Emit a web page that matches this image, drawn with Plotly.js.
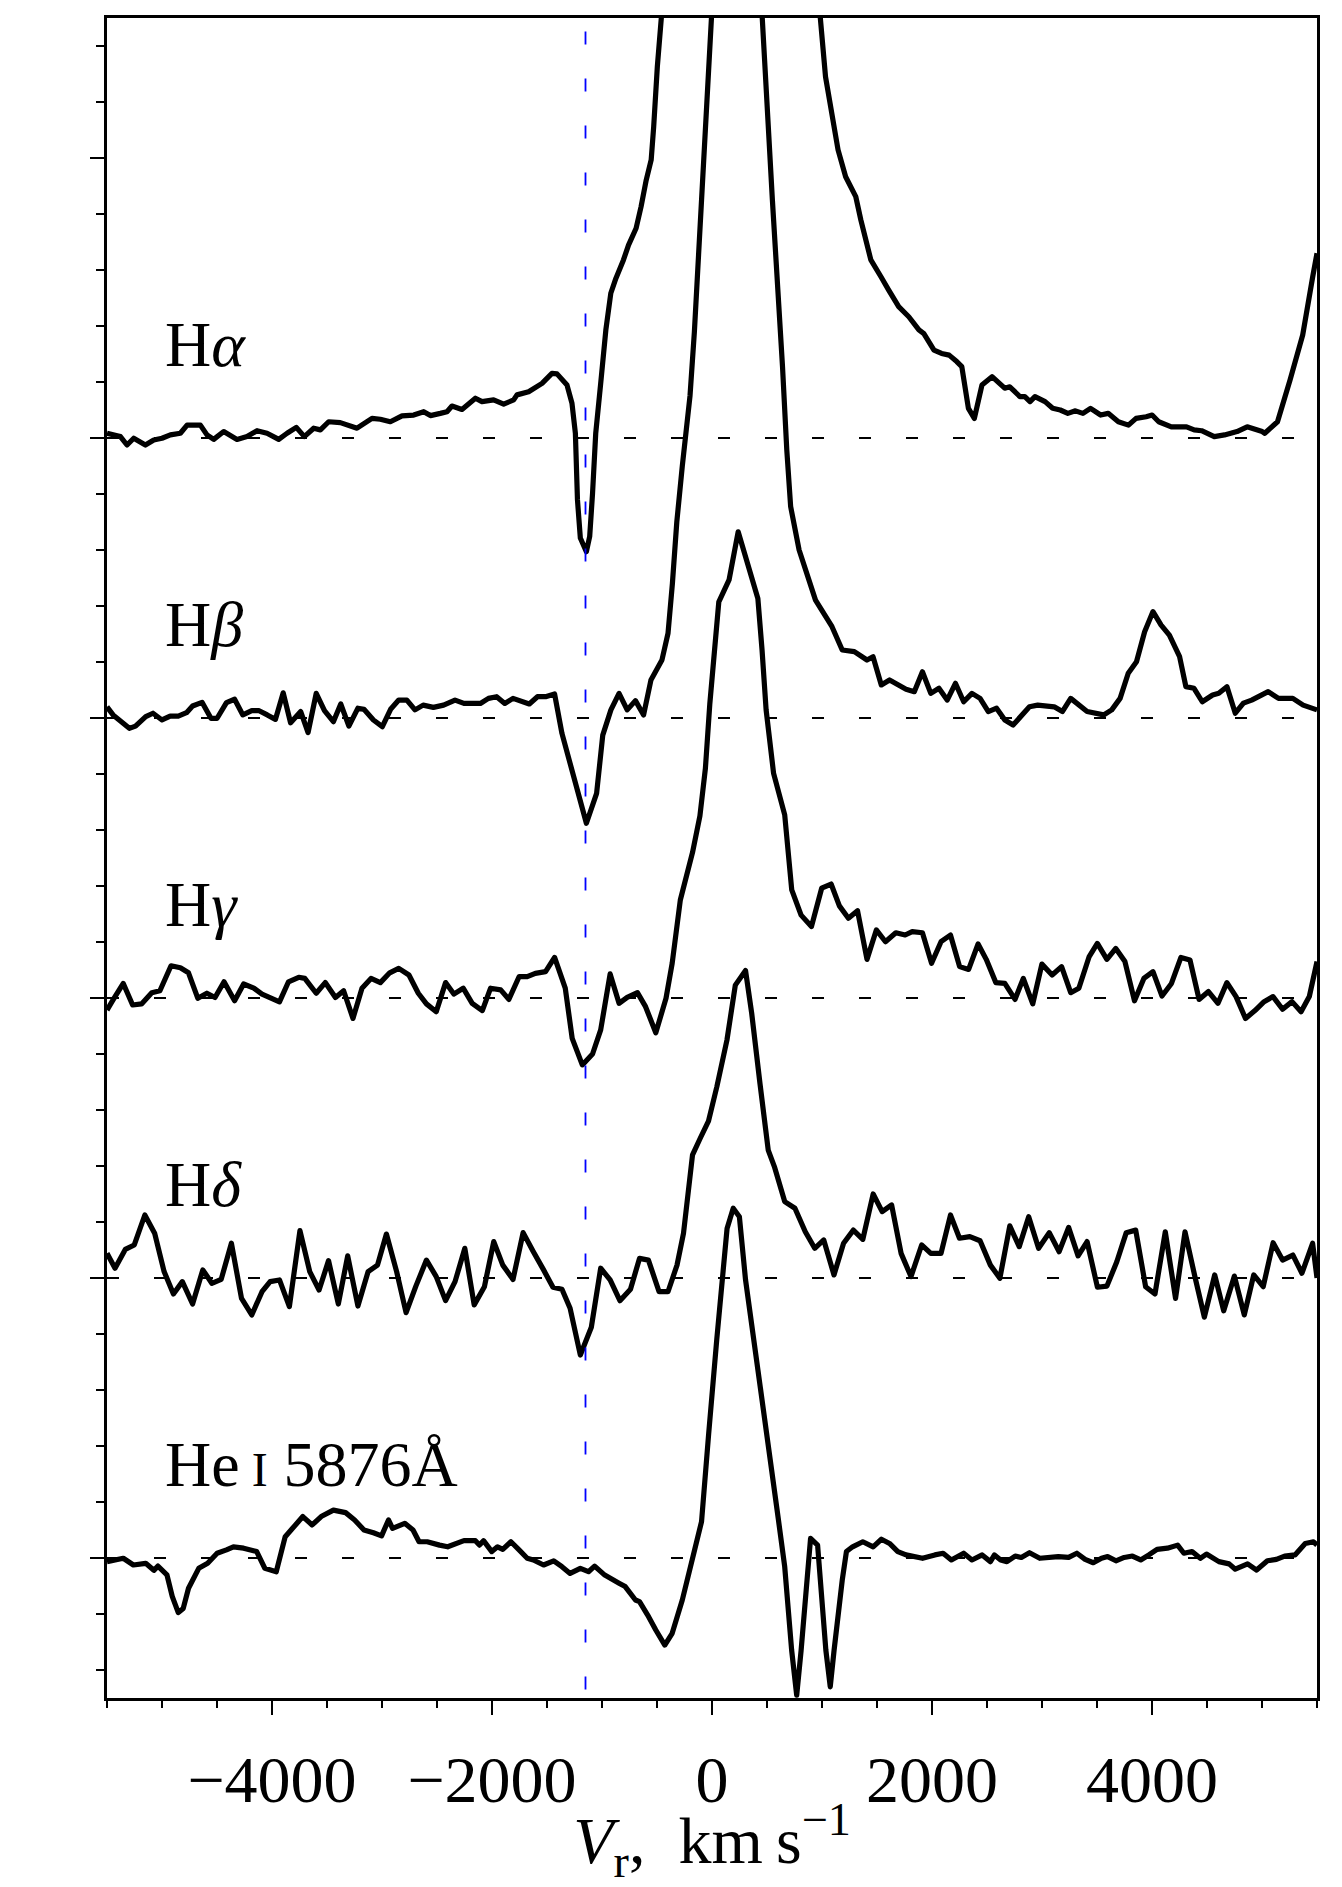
<!DOCTYPE html>
<html>
<head>
<meta charset="utf-8">
<script src="https://cdn.plot.ly/plotly-3.0.1.min.js"></script>
<style>
  body { margin: 0; background: #fff; }
  #plot { width: 1342px; height: 1887px; }
  .scatterlayer .js-line { stroke-linejoin: round; }
</style>
</head>
<body>
<div id="plot"></div>
<script>
// velocity (km/s) and flux relative to the continuum, one list per line
const hAlpha = [
  [-5500, 0.017], [-5378, 0.005], [-5318, -0.025], [-5257, -0.001], [-5151, -0.025], [-5075, -0.007],
  [-5000, -0.001], [-4924, 0.011], [-4833, 0.017], [-4772, 0.046], [-4651, 0.046], [-4591, 0.011],
  [-4530, -0.005], [-4439, 0.023], [-4318, -0.005], [-4227, 0.005], [-4136, 0.026], [-4045, 0.017],
  [-3939, -0.005], [-3863, 0.017], [-3779, 0.038], [-3706, 0.005], [-3621, 0.035], [-3560, 0.029],
  [-3485, 0.058], [-3379, 0.055], [-3227, 0.035], [-3091, 0.070], [-3015, 0.067], [-2924, 0.058],
  [-2818, 0.079], [-2712, 0.082], [-2621, 0.094], [-2560, 0.080], [-2470, 0.088], [-2409, 0.094],
  [-2364, 0.114], [-2273, 0.102], [-2151, 0.142], [-2091, 0.130], [-1985, 0.136], [-1894, 0.121],
  [-1803, 0.136], [-1773, 0.154], [-1667, 0.165], [-1545, 0.195], [-1455, 0.231], [-1409, 0.229],
  [-1318, 0.189], [-1273, 0.124], [-1242, 0.017], [-1223, -0.221], [-1197, -0.357], [-1142, -0.406],
  [-1112, -0.352], [-1086, -0.198], [-1057, 0.017], [-1012, 0.195], [-965, 0.386], [-920, 0.517],
  [-874, 0.570], [-805, 0.636], [-759, 0.689], [-690, 0.749], [-645, 0.826], [-598, 0.921],
  [-553, 0.993], [-530, 1.112], [-497, 1.326], [-461, 1.499], [-420, 1.696], [250, 4.0],
  [940, 1.70], [985, 1.499], [1032, 1.290], [1146, 1.029], [1215, 0.933], [1307, 0.862],
  [1353, 0.779], [1444, 0.636], [1536, 0.576], [1605, 0.529], [1697, 0.469], [1789, 0.433],
  [1881, 0.386], [1926, 0.373], [2018, 0.314], [2087, 0.302], [2156, 0.296], [2225, 0.273],
  [2271, 0.255], [2331, 0.106], [2385, 0.070], [2454, 0.189], [2546, 0.219], [2661, 0.178],
  [2707, 0.183], [2799, 0.148], [2844, 0.148], [2891, 0.130], [2936, 0.148], [3028, 0.130],
  [3097, 0.106], [3166, 0.100], [3235, 0.088], [3304, 0.097], [3372, 0.088], [3441, 0.106],
  [3533, 0.082], [3602, 0.088], [3694, 0.058], [3786, 0.046], [3855, 0.070], [3947, 0.076],
  [4001, 0.082], [4061, 0.058], [4176, 0.040], [4314, 0.040], [4383, 0.029], [4451, 0.026],
  [4566, 0.005], [4659, 0.011], [4773, 0.023], [4865, 0.040], [5002, 0.023], [5025, 0.017],
  [5141, 0.058], [5255, 0.207], [5370, 0.368], [5461, 0.576], [5500, 0.660]
];

const hBeta = [
  [-5500, 0.040], [-5445, 0.011], [-5297, -0.037], [-5241, -0.029], [-5148, 0.005], [-5082, 0.017],
  [-5000, -0.007], [-4926, 0.007], [-4852, 0.007], [-4777, 0.019], [-4722, 0.043], [-4636, 0.056],
  [-4555, -0.001], [-4499, -0.001], [-4414, 0.055], [-4340, 0.067], [-4265, 0.011], [-4184, 0.026],
  [-4117, 0.026], [-4043, 0.011], [-3969, -0.005], [-3898, 0.090], [-3831, -0.017], [-3739, 0.023],
  [-3672, -0.052], [-3598, 0.088], [-3523, 0.026], [-3442, -0.013], [-3375, 0.050], [-3301, -0.029],
  [-3219, 0.035], [-3164, 0.031], [-3078, -0.007], [-2997, -0.031], [-2922, 0.031], [-2848, 0.064],
  [-2774, 0.064], [-2700, 0.029], [-2626, 0.046], [-2533, 0.038], [-2440, 0.046], [-2336, 0.064],
  [-2255, 0.052], [-2106, 0.052], [-2032, 0.070], [-1958, 0.076], [-1884, 0.052], [-1809, 0.070],
  [-1661, 0.050], [-1587, 0.076], [-1513, 0.076], [-1431, 0.086], [-1364, -0.055], [-1142, -0.376],
  [-1049, -0.269], [-993, -0.061], [-919, 0.029], [-845, 0.088], [-771, 0.029], [-696, 0.062],
  [-622, 0.011], [-555, 0.136], [-455, 0.207], [-400, 0.302], [-360, 0.480], [-320, 0.700],
  [-270, 0.900], [-200, 1.150], [-160, 1.380], [-95, 1.850], [-5, 2.500], [225, 4.100],
  [457, 2.499], [549, 1.850], [641, 1.255], [680, 0.957], [715, 0.755], [792, 0.600],
  [941, 0.421], [1091, 0.326], [1184, 0.243], [1294, 0.237], [1409, 0.207], [1464, 0.219],
  [1539, 0.118], [1614, 0.136], [1764, 0.103], [1839, 0.094], [1913, 0.165], [1989, 0.088],
  [2063, 0.106], [2138, 0.064], [2213, 0.124], [2288, 0.058], [2363, 0.088], [2437, 0.070],
  [2512, 0.023], [2587, 0.035], [2662, -0.007], [2737, -0.025], [2886, 0.040], [2961, 0.046],
  [3111, 0.040], [3185, 0.023], [3261, 0.070], [3410, 0.023], [3560, 0.011], [3634, 0.029],
  [3710, 0.070], [3784, 0.160], [3859, 0.201], [3933, 0.308], [4009, 0.380], [4083, 0.332],
  [4158, 0.296], [4251, 0.219], [4308, 0.112], [4382, 0.106], [4457, 0.058], [4551, 0.082],
  [4607, 0.088], [4681, 0.112], [4757, 0.017], [4831, 0.053], [4906, 0.064], [5056, 0.094],
  [5150, 0.070], [5280, 0.070], [5374, 0.046], [5500, 0.029]
];

const hGamma = [
  [-5500, -0.043], [-5445, -0.007], [-5352, 0.052], [-5267, -0.025], [-5186, -0.021], [-5093, 0.019],
  [-5019, 0.026], [-4918, 0.115], [-4833, 0.108], [-4759, 0.090], [-4674, -0.001], [-4592, 0.017],
  [-4518, 0.002], [-4436, 0.058], [-4340, -0.010], [-4258, 0.050], [-4165, 0.035], [-4091, 0.014],
  [-3932, -0.014], [-3850, 0.058], [-3757, 0.074], [-3702, 0.070], [-3598, 0.017], [-3516, 0.055],
  [-3423, 0.002], [-3349, 0.026], [-3264, -0.073], [-3182, 0.035], [-3100, 0.070], [-3015, 0.055],
  [-2930, 0.090], [-2848, 0.106], [-2755, 0.082], [-2670, 0.017], [-2596, -0.021], [-2507, -0.049],
  [-2422, 0.055], [-2347, 0.014], [-2262, 0.035], [-2180, -0.019], [-2088, -0.045], [-2013, 0.035],
  [-1921, 0.029], [-1847, -0.005], [-1754, 0.076], [-1680, 0.076], [-1606, 0.088], [-1513, 0.094],
  [-1431, 0.145], [-1334, 0.035], [-1271, -0.144], [-1179, -0.239], [-1086, -0.200], [-1012, -0.114],
  [-926, 0.086], [-845, -0.019], [-771, 0.002], [-678, 0.019], [-604, -0.031], [-511, -0.124],
  [-418, -0.001], [-362, 0.124], [-288, 0.350], [-177, 0.520], [-110, 0.650], [-60, 0.820],
  [-20, 1.050], [62, 1.415], [155, 1.493], [238, 1.665], [417, 1.427], [455, 1.243],
  [492, 1.029], [560, 0.802], [661, 0.654], [725, 0.386], [810, 0.296], [904, 0.255],
  [997, 0.392], [1083, 0.407], [1158, 0.329], [1240, 0.285], [1323, 0.312], [1409, 0.138],
  [1494, 0.243], [1577, 0.201], [1671, 0.233], [1756, 0.225], [1820, 0.237], [1913, 0.233],
  [1996, 0.124], [2082, 0.201], [2168, 0.225], [2251, 0.112], [2333, 0.102], [2419, 0.193],
  [2493, 0.138], [2580, 0.055], [2662, 0.052], [2755, -0.005], [2830, 0.070], [2916, -0.021],
  [2999, 0.121], [3092, 0.082], [3178, 0.112], [3261, 0.019], [3335, 0.035], [3429, 0.148],
  [3503, 0.195], [3590, 0.138], [3671, 0.177], [3754, 0.130], [3841, -0.010], [3926, 0.070],
  [4009, 0.094], [4091, 0.007], [4177, 0.052], [4263, 0.145], [4345, 0.136], [4428, -0.005],
  [4513, 0.023], [4600, -0.019], [4681, 0.055], [4764, 0.005], [4850, -0.073], [4936, -0.045],
  [5019, -0.013], [5100, 0.005], [5187, -0.040], [5273, -0.013], [5355, -0.049], [5430, 0.005],
  [5500, 0.130]
];

const hDelta = [
  [-5500, 0.088], [-5427, 0.035], [-5334, 0.102], [-5252, 0.118], [-5156, 0.225], [-5067, 0.160],
  [-4981, 0.023], [-4896, -0.057], [-4815, -0.013], [-4722, -0.093], [-4629, 0.029], [-4547, -0.019],
  [-4462, -0.005], [-4369, 0.124], [-4277, -0.073], [-4184, -0.132], [-4091, -0.049], [-4017, -0.013],
  [-3932, -0.007], [-3842, -0.102], [-3746, 0.169], [-3657, 0.023], [-3572, -0.043], [-3486, 0.062],
  [-3397, -0.093], [-3312, 0.079], [-3219, -0.100], [-3126, 0.023], [-3041, 0.046], [-2960, 0.157],
  [-2867, 0.023], [-2781, -0.124], [-2692, -0.029], [-2596, 0.064], [-2507, 0.005], [-2422, -0.081],
  [-2336, -0.013], [-2247, 0.106], [-2162, -0.096], [-2069, -0.031], [-1984, 0.130], [-1902, 0.046],
  [-1809, -0.005], [-1717, 0.162], [-1624, 0.094], [-1531, 0.029], [-1446, -0.033], [-1364, -0.040],
  [-1290, -0.108], [-1197, -0.275], [-1097, -0.176], [-1012, 0.035], [-926, -0.007], [-837, -0.081],
  [-741, -0.040], [-659, 0.070], [-578, 0.064], [-481, -0.049], [-400, -0.049], [-318, 0.046],
  [-259, 0.160], [-177, 0.440], [-106, 0.500], [-32, 0.560], [44, 0.683], [136, 0.850],
  [212, 1.046], [305, 1.098], [361, 0.945], [436, 0.695], [511, 0.457], [567, 0.398],
  [661, 0.273], [754, 0.249], [848, 0.165], [934, 0.106], [1016, 0.136], [1109, 0.011],
  [1196, 0.124], [1285, 0.171], [1371, 0.138], [1465, 0.300], [1547, 0.237], [1633, 0.261],
  [1719, 0.088], [1809, 0.005], [1906, 0.118], [1989, 0.088], [2082, 0.088], [2168, 0.225],
  [2250, 0.142], [2344, 0.148], [2437, 0.133], [2531, 0.046], [2617, -0.001], [2707, 0.186],
  [2793, 0.112], [2879, 0.219], [2969, 0.106], [3066, 0.162], [3156, 0.094], [3242, 0.181],
  [3328, 0.079], [3410, 0.130], [3504, -0.033], [3590, -0.029], [3680, 0.058], [3766, 0.162],
  [3852, 0.171], [3942, -0.031], [4027, -0.057], [4121, 0.165], [4214, -0.073], [4300, 0.165],
  [4390, 0.005], [4476, -0.140], [4570, 0.011], [4652, -0.117], [4749, 0.007], [4839, -0.132],
  [4925, 0.011], [5011, -0.031], [5101, 0.126], [5187, 0.064], [5281, 0.082], [5363, 0.017],
  [5460, 0.124], [5500, 0.000]
];

const heI = [
  [-5500, -0.013], [-5352, -0.001], [-5260, -0.025], [-5148, -0.019], [-5074, -0.044], [-5037, -0.029],
  [-4955, -0.060], [-4907, -0.137], [-4852, -0.195], [-4807, -0.180], [-4759, -0.108], [-4666, -0.037],
  [-4585, -0.019], [-4499, 0.017], [-4414, 0.029], [-4351, 0.040], [-4258, 0.035], [-4139, 0.023],
  [-4065, -0.037], [-3961, -0.049], [-3880, 0.076], [-3813, 0.106], [-3720, 0.148], [-3635, 0.118],
  [-3553, 0.148], [-3442, 0.171], [-3331, 0.162], [-3249, 0.136], [-3164, 0.100], [-3078, 0.090],
  [-3004, 0.079], [-2941, 0.136], [-2904, 0.106], [-2793, 0.124], [-2718, 0.100], [-2663, 0.058],
  [-2589, 0.058], [-2477, 0.046], [-2403, 0.040], [-2255, 0.062], [-2151, 0.062], [-2114, 0.046],
  [-2077, 0.062], [-2002, 0.023], [-1950, 0.040], [-1902, 0.031], [-1828, 0.058], [-1754, 0.029],
  [-1680, -0.001], [-1624, -0.007], [-1531, -0.025], [-1439, -0.010], [-1364, -0.031], [-1290, -0.055],
  [-1197, -0.037], [-1123, -0.049], [-1067, -0.029], [-975, -0.061], [-845, -0.090], [-789, -0.102],
  [-696, -0.150], [-659, -0.156], [-585, -0.204], [-511, -0.257], [-429, -0.311], [-362, -0.269],
  [-270, -0.150], [-158, 0.029], [-95, 0.130], [-30, 0.445], [43, 0.779], [137, 1.177],
  [193, 1.249], [249, 1.219], [305, 0.993], [455, 0.564], [604, 0.136], [661, -0.031],
  [724, -0.329], [770, -0.490], [810, -0.330], [896, 0.070], [960, 0.046], [1035, -0.329],
  [1075, -0.460], [1110, -0.329], [1184, -0.079], [1222, 0.023], [1278, 0.040], [1371, 0.058],
  [1465, 0.040], [1540, 0.067], [1614, 0.052], [1689, 0.023], [1764, 0.011], [1914, -0.001],
  [2026, 0.011], [2101, 0.017], [2176, -0.007], [2288, 0.017], [2363, -0.007], [2456, 0.011],
  [2531, -0.013], [2568, 0.011], [2624, -0.007], [2681, -0.013], [2756, 0.007], [2812, 0.002],
  [2886, 0.019], [2980, -0.001], [3148, 0.005], [3242, 0.002], [3317, 0.017], [3392, -0.005],
  [3466, -0.017], [3541, -0.001], [3597, 0.005], [3672, -0.010], [3747, 0.002], [3822, 0.007],
  [3897, -0.007], [3971, 0.011], [4046, 0.031], [4140, 0.035], [4233, 0.046], [4290, 0.017],
  [4364, 0.023], [4439, -0.001], [4495, 0.014], [4608, -0.013], [4701, -0.021], [4757, -0.040],
  [4869, -0.021], [4951, -0.043], [5049, -0.010], [5131, -0.005], [5206, 0.007], [5300, 0.011],
  [5393, 0.052], [5468, 0.058], [5500, 0.046]
];

const spectra = [hAlpha, hBeta, hGamma, hDelta, heI];
const offsets = [4, 3, 2, 1, 0];
const lineNames = ['H<i>α</i>', 'H<i>β</i>', 'H<i>γ</i>', 'H<i>δ</i>',
                   'He<span style="font-size:48px"> I</span> 5876Å'];
const markVelocity = -1150;   // blue dashed reference line
const xRange = [-5500, 5500];
const yRange = [-0.5, 5.5];
const xTicks = [-4000, -2000, 0, 2000, 4000];

const traces = [];

// continuum levels
offsets.forEach(off => {
  traces.push({
    x: xRange, y: [off, off], type: 'scatter', mode: 'lines',
    line: { color: 'black', width: 2.2, dash: '12px,35px' }, hoverinfo: 'skip'
  });
});

// spectra, shifted by their offsets
spectra.forEach((sp, i) => {
  traces.push({
    x: sp.map(p => p[0]),
    y: sp.map(p => p[1] + offsets[i]),
    type: 'scatter', mode: 'lines',
    line: { color: 'black', width: 5.2, simplify: false }
  });
});

// vertical marker
traces.push({
  x: [markVelocity, markVelocity], y: [yRange[1] + 0.12, yRange[0]],
  type: 'scatter', mode: 'lines',
  line: { color: 'blue', width: 1.8, dash: '13px,34px' }
});

const annotations = lineNames.map((t, i) => ({
  x: -4990, y: offsets[i] + 0.2, xref: 'x', yref: 'y',
  xanchor: 'left', yanchor: 'bottom', showarrow: false,
  text: t, font: { size: 64, color: 'black', family: 'Liberation Serif, serif' }
}));

const layout = {
  width: 1342, height: 1887,
  margin: { l: 107, r: 25, t: 18, b: 189 },
  paper_bgcolor: 'white', plot_bgcolor: 'white',
  showlegend: false,
  font: { family: 'Liberation Serif, serif', color: 'black', size: 64 },
  xaxis: {
    range: xRange, tickmode: 'array', tickvals: xTicks,
    ticktext: xTicks.map(v => (v < 0 ? '\u2212' : '') + Math.abs(v)),
    ticks: 'outside', ticklen: 14, tickwidth: 2.2, tickcolor: 'black',
    ticklabelstandoff: 8,
    minor: { ticks: 'outside', ticklen: 7, tickwidth: 2, tickcolor: 'black', dtick: 500, tick0: 0 },
    showline: true, linewidth: 3, linecolor: 'black', mirror: true,
    showgrid: false, zeroline: false,
    tickfont: { size: 66 },
    title: {
      text: '<i>V</i><sub>r</sub>,\u00a0 km\u2009s<sup>\u22121</sup>',
      font: { size: 66 }, standoff: 26
    }
  },
  yaxis: {
    range: yRange, tickmode: 'linear', tick0: 0, dtick: 1,
    showticklabels: false,
    ticks: 'outside', ticklen: 14, tickwidth: 2.2, tickcolor: 'black',
    minor: { ticks: 'outside', ticklen: 8, tickwidth: 2, tickcolor: 'black', dtick: 0.2, tick0: 0 },
    showline: true, linewidth: 3, linecolor: 'black', mirror: true,
    showgrid: false, zeroline: false
  },
  annotations: annotations
};

Plotly.newPlot('plot', traces, layout, { staticPlot: true });
</script>
</body>
</html>
